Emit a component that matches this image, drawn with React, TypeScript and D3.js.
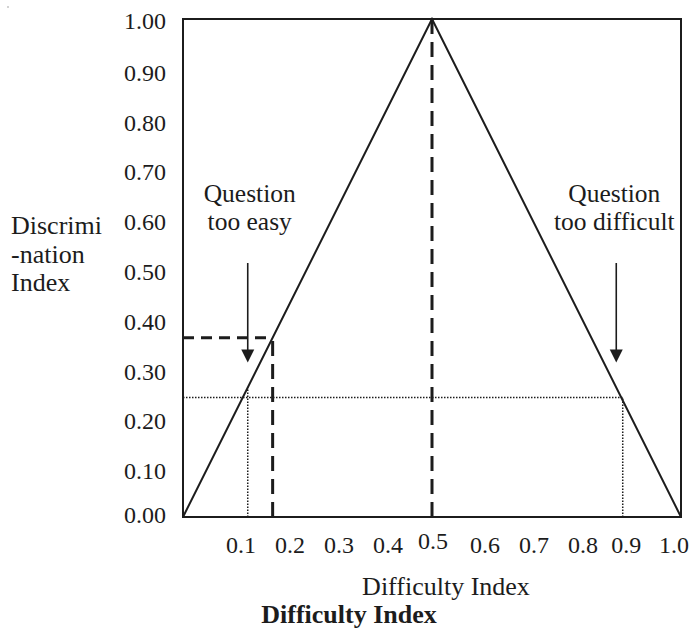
import { useRef, useEffect } from "react";
import * as d3 from "d3";

// difficulty vs discrimination: the triangle of maximum discrimination
const triangleX = [0, 0.5, 1];
const triangleY = [0, 1, 0];

const yTicks = [0, 0.1, 0.2, 0.3, 0.4, 0.5, 0.6, 0.7, 0.8, 0.9, 1.0];
const xTicks = [0.1, 0.2, 0.3, 0.4, 0.5, 0.6, 0.7, 0.8, 0.9, 1.0];

// dashed guides: (0.18, 0.36) corner and the 0.5 peak
const dashedCornerX = 0.18;
const dashedCornerY = 0.36;
const peakX = 0.5;

// dotted guides at discrimination 0.24
const dottedLevel = 0.24;
const dottedX = [0.13, 0.883];
const dottedTop = [0.26, 0.24];

// arrows
const arrowX = [0.13, 0.87];
const arrowFrom = 0.51;
const arrowTo = 0.31;
const arrowLabels = [
  ["Question", "too easy"],
  ["Question", "too difficult"],
];

const yTitle = ["Discrimi", "-nation", "Index"];
const xTitle = "Difficulty Index";
const caption = "Difficulty Index";

const W = 690;
const H = 629;
const FONT = "Liberation Serif";
const INK = "#1c1c1c";

export default function App() {
  const svgRef = useRef<SVGSVGElement>(null);

  useEffect(() => {
    if (!svgRef.current) return;
    const svg = d3.select(svgRef.current);
    svg.selectAll("*").remove();

    const x = d3.scaleLinear().domain([0, 1]).range([183, 681]);
    const y = d3.scaleLinear().domain([0, 1]).range([517, 19]);

    const label = (tx: number, ty: number, t: string, size: number, anchor = "start") =>
      svg
        .append("text")
        .attr("x", tx)
        .attr("y", ty)
        .attr("text-anchor", anchor)
        .style("font-family", FONT)
        .style("font-weight", "normal")
        .style("font-size", `${size}px`)
        .attr("fill", INK)
        .text(t);

    svg.append("circle").attr("cx", 8).attr("cy", 7).attr("r", 0.8).attr("fill", "#999");

    // frame
    svg
      .append("rect")
      .attr("x", x(0))
      .attr("y", y(1))
      .attr("width", x(1) - x(0))
      .attr("height", y(0) - y(1))
      .attr("fill", "none")
      .attr("stroke", INK)
      .attr("stroke-width", 2);

    // dotted guides
    svg
      .append("line")
      .attr("x1", x(0))
      .attr("x2", x(dottedX[1]))
      .attr("y1", y(dottedLevel))
      .attr("y2", y(dottedLevel))
      .attr("stroke", INK)
      .attr("stroke-width", 1.5)
      .attr("stroke-dasharray", "1.5 1.5");
    dottedX.forEach((v, i) => {
      svg
        .append("line")
        .attr("x1", x(v))
        .attr("x2", x(v))
        .attr("y1", y(0))
        .attr("y2", y(dottedTop[i]))
        .attr("stroke", INK)
        .attr("stroke-width", 1.5)
        .attr("stroke-dasharray", "1.5 1.5");
    });

    // dashed guides
    svg
      .append("line")
      .attr("x1", x(0))
      .attr("x2", x(dashedCornerX))
      .attr("y1", y(dashedCornerY))
      .attr("y2", y(dashedCornerY))
      .attr("stroke", INK)
      .attr("stroke-width", 3)
      .attr("stroke-dasharray", "11 7");
    [
      [dashedCornerX, dashedCornerY],
      [peakX, 1],
    ].forEach(([vx, vy]) => {
      svg
        .append("line")
        .attr("x1", x(vx))
        .attr("x2", x(vx))
        .attr("y1", y(0))
        .attr("y2", y(vy))
        .attr("stroke", INK)
        .attr("stroke-width", 3)
        .attr("stroke-dasharray", "15 8");
    });

    // triangle
    const line = d3
      .line<number>()
      .x((_, i) => x(triangleX[i]))
      .y((d) => y(d));
    svg
      .append("path")
      .attr("d", line(triangleY))
      .attr("fill", "none")
      .attr("stroke", INK)
      .attr("stroke-width", 2);

    // arrows + their labels
    arrowX.forEach((v, i) => {
      const ax = x(v);
      const tip = y(arrowTo);
      svg
        .append("line")
        .attr("x1", ax)
        .attr("x2", ax)
        .attr("y1", y(arrowFrom))
        .attr("y2", tip - 10)
        .attr("stroke", INK)
        .attr("stroke-width", 1.6);
      svg
        .append("path")
        .attr("d", `M${ax - 6.5},${tip - 13}L${ax + 6.5},${tip - 13}L${ax},${tip}Z`)
        .attr("fill", INK);
      const lx = ax + (i === 0 ? 2 : -2);
      arrowLabels[i].forEach((t, j) => label(lx, 202 + j * 27.5, t, 25.5, "middle"));
    });

    // y tick labels
    yTicks.forEach((d) =>
      label(166, y(d) + (d === 0 ? 6 : d === 1 ? 10 : 12), d3.format(".2f")(d), 24, "end"),
    );

    // x tick labels (nudged like the printed figure)
    const tickDx = (v: number) =>
      v === 0.5 ? 1 : v === 1 ? -7 : v === 0.9 ? -5 : v >= 0.6 ? 8 - v * 8 : 9 - v * 8;
    xTicks.forEach((d) =>
      label(x(d) + tickDx(d), d === 0.5 ? 549 : 553, d3.format(".1f")(d), 24, "middle"),
    );

    // y title
    yTitle.forEach((t, i) => label(11, 234 + i * 28.5, t, 26));

    // x title and caption
    label(446, 595, xTitle, 26, "middle");
    label(349, 623, caption, 26, "middle").style("font-weight", "bold");
  }, []);

  return (
    <svg
      ref={svgRef}
      width={W}
      height={H}
      style={{ position: "absolute", left: 0, top: 0, background: "#fff" }}
    />
  );
}
